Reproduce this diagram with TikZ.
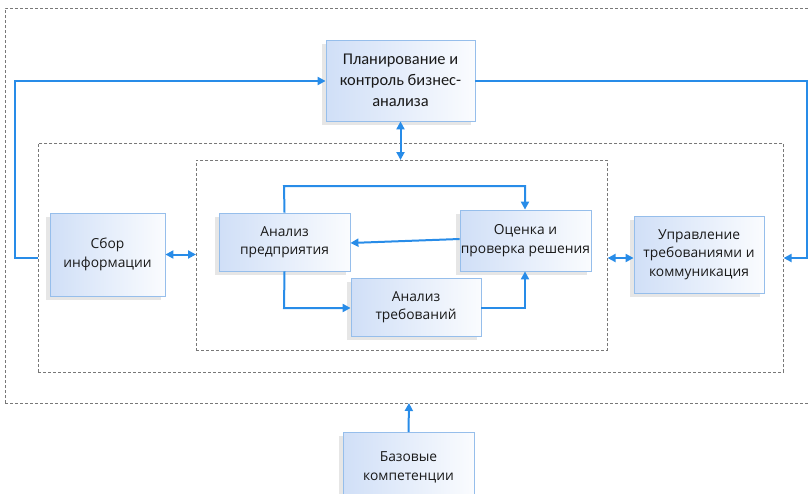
\documentclass[tikz,border=0pt]{standalone}
\usepackage{fontspec}
\setmainfont{Open Sans}
\newfontfamily\condfont{Carlito}
\usetikzlibrary{arrows.meta,shadows,positioning}
\definecolor{lnblue}{RGB}{40,140,232}
\definecolor{boxedge}{RGB}{150,190,235}
\definecolor{boxfill}{RGB}{208,223,247}
\definecolor{dashgray}{RGB}{120,120,120}
\tikzset{
  blk/.style={draw=boxedge, line width=0.8pt, left color=boxfill, right color=white!90!boxfill,
    align=center, inner sep=0pt, font=\fontsize{13.8}{18.5}\selectfont, text=black!90,
    drop shadow={shadow xshift=-4pt, shadow yshift=-4pt, opacity=0.14, fill=black!70}},
  frame/.style={draw=dashgray, line width=0.6pt, dash pattern=on 3pt off 2pt},
  conn/.style={draw=lnblue, line width=2pt, -{Triangle[length=8pt,width=8pt]}},
  bconn/.style={draw=lnblue, line width=2pt, {Triangle[length=8pt,width=8pt]}-{Triangle[length=8pt,width=8pt]}},
}
\begin{document}
\begin{tikzpicture}[x=1pt,y=-1pt]
\useasboundingbox (0,0) rectangle (808,493);
% frames
\draw[frame] (5,403) -- (5,8) -- (812,8);
\draw[frame] (5,403) -- (812,403);
\node[frame, minimum width=745pt, minimum height=229pt, anchor=north west, inner sep=0pt] (mid) at (38,143) {};
\node[frame, minimum width=411pt, minimum height=190pt, anchor=north west, inner sep=0pt] (inn) at (196,160) {};
\coordinate (outb) at (409,403);
% boxes
\node[blk, minimum width=149pt, minimum height=81pt, font=\condfont\fontsize{16.4}{21}\selectfont] (plan) at (400.5,80.5) {Планирование и\\контроль бизнес-\\анализа};
\node[blk, minimum width=115pt, minimum height=83pt] (sbor) at (107.5,254.5) {Сбор\\информации};
\node[blk, minimum width=131pt, minimum height=58pt] (anp) at (284.5,242) {Анализ\\предприятия};
\node[blk, minimum width=131pt, minimum height=61pt] (ocen) at (525.5,240.5) {Оценка и\\проверка решения};
\node[blk, minimum width=130pt, minimum height=58pt] (antr) at (416,307) {Анализ\\требований};
\node[blk, minimum width=130pt, minimum height=77pt] (upr) at (699,254.5) {Управление\\требованиями и\\коммуникация};
\node[blk, minimum width=131pt, minimum height=70pt, anchor=north] (baz) at (408.5,432) {Базовые\\компетенции};
% connectors
\draw[conn] (mid.west |- 0,258) -- (15,258) -- (15,81) -- (plan.west |- 0,81);
\draw[conn] (plan.east |- 0,81) -- (807,81) -- (807,258) -- (mid.east |- 0,258);
\draw[bconn] (plan.south) -- (inn.north -| plan.south);
\draw[bconn] (sbor.east) -- (inn.west |- sbor.east);
\draw[bconn] (inn.east |- 0,258) -- (upr.west |- 0,258);
\draw[conn] (ocen.west |- 0,239) -- (anp.east |- 0,243);
\draw[conn] (anp.north) -- (284,186) -- (525,186) -- (ocen.north -| 525,0);
\draw[conn] (anp.south) -- (284,308) -- (antr.west |- 0,308);
\draw[conn] (antr.east |- 0,308) -- (525,308) -- (ocen.south -| 525,0);
\draw[conn] (baz.north) -- (outb);
\end{tikzpicture}
\end{document}
